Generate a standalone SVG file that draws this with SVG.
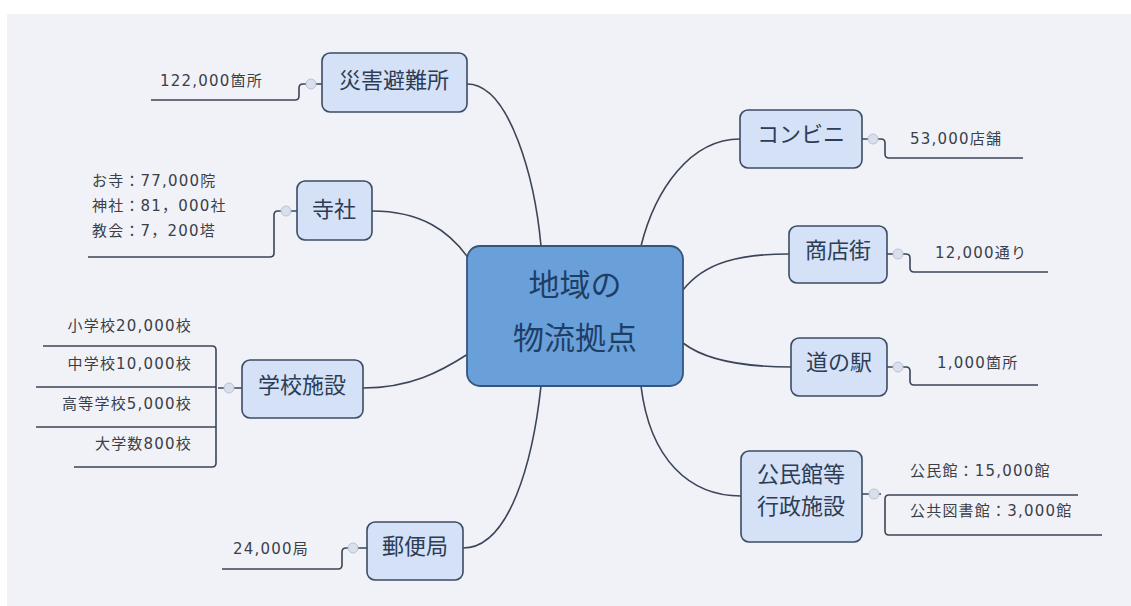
<svg xmlns="http://www.w3.org/2000/svg" width="1131" height="606" viewBox="0 0 1131 606">
<style>
.bg{fill:#f1f2f8}
.node{fill:#d5e1f7;stroke:#3b4c63;stroke-width:1.6}
.center{fill:#6aa0da;stroke:#34557c;stroke-width:1.8}
.t{font-family:"DejaVu Sans","Noto Sans CJK JP",sans-serif;fill:#2c3d55}
.nt{font-size:22px;text-anchor:middle}
.lt{font-size:15px;fill:#3a3f48;letter-spacing:1.2px}
.ct{font-size:31px;text-anchor:middle;fill:#1f3e66}
.line{fill:none;stroke:#3b4558;stroke-width:1.6}
.tog{fill:#d9e0ec;stroke:#b7c3d6;stroke-width:1}
</style>
<rect x="0" y="0" width="1131" height="606" fill="#ffffff"/>
<rect class="bg" x="7" y="14" width="1124" height="592"/>
<g id="connectors">
<path class="line" d="M467,84 C510,84 535,180 541,246"/>
<path class="line" d="M372,211 C420,211 450,230 471,262"/>
<path class="line" d="M363,388 C410,388 440,372 468,354"/>
<path class="line" d="M463,548 C510,548 533,460 541,386"/>
<path class="line" d="M740,139 C690,139 655,190 641,246"/>
<path class="line" d="M789,254 C740,254 705,262 683,290"/>
<path class="line" d="M791,367 C740,367 705,360 683,343"/>
<path class="line" d="M741,496 C690,496 650,460 641,386"/>
<path class="line" d="M322,84 H303 Q299,84 299,88 V96 Q299,100 295,100 H151"/>
<path class="line" d="M297,211 H278 Q274,211 274,215 V253 Q274,257 270,257 H88"/>
<path class="line" d="M242,388 H218 M216,350 Q216,346 212,346 H43 M216,350 V463 Q216,467 212,467 H74 M216,387 H36 M216,427 H36"/>
<path class="line" d="M367,548 H346 Q342,548 342,552 V565 Q342,569 338,569 H222"/>
<path class="line" d="M862,139 H881 Q885,139 885,143 V154 Q885,158 889,158 H1023"/>
<path class="line" d="M887,254 H906 Q910,254 910,258 V268 Q910,272 914,272 H1048"/>
<path class="line" d="M887,367 H906 Q910,367 910,371 V381 Q910,385 914,385 H1038"/>
<path class="line" d="M862,494 H881 M885,499 Q885,495 889,495 H1078 M885,499 V531 Q885,535 889,535 H1102"/>
<circle class="tog" cx="311" cy="84" r="5"/>
<circle class="tog" cx="286" cy="211" r="5"/>
<circle class="tog" cx="229" cy="388" r="5"/>
<circle class="tog" cx="353" cy="548" r="5"/>
<circle class="tog" cx="873" cy="139" r="5"/>
<circle class="tog" cx="898" cy="254" r="5"/>
<circle class="tog" cx="898" cy="367" r="5"/>
<circle class="tog" cx="874" cy="494" r="5"/>
</g>
<g id="center">
<rect class="center" x="467" y="246" width="216" height="140" rx="13"/>
<text class="t ct" x="575" y="296">地域の</text>
<text class="t ct" x="575" y="349">物流拠点</text>
</g>
<g id="saigai">
<rect class="node" x="322" y="53" width="145" height="59" rx="8"/>
<text class="t nt" x="394" y="88">災害避難所</text>
<text class="t lt" x="160" y="86">122,000箇所</text>
</g>
<g id="jisha">
<rect class="node" x="297" y="181" width="75" height="59" rx="8"/>
<text class="t nt" x="334" y="217">寺社</text>
<text class="t lt" x="92" y="186">お寺：77,000院</text>
<text class="t lt" x="92" y="211">神社：81，000社</text>
<text class="t lt" x="92" y="236">教会：7，200塔</text>
</g>
<g id="gakko">
<rect class="node" x="242" y="360" width="121" height="58" rx="8"/>
<text class="t nt" x="302" y="393">学校施設</text>
<text class="t lt" x="192" y="331" text-anchor="end">小学校20,000校</text>
<text class="t lt" x="192" y="369" text-anchor="end">中学校10,000校</text>
<text class="t lt" x="192" y="409" text-anchor="end">高等学校5,000校</text>
<text class="t lt" x="192" y="449" text-anchor="end">大学数800校</text>
</g>
<g id="yubin">
<rect class="node" x="367" y="522" width="96" height="58" rx="8"/>
<text class="t nt" x="415" y="554">郵便局</text>
<text class="t lt" x="233" y="554">24,000局</text>
</g>
<g id="konbini">
<rect class="node" x="740" y="110" width="122" height="58" rx="8"/>
<text class="t nt" x="801" y="142">コンビニ</text>
<text class="t lt" x="910" y="144">53,000店舗</text>
</g>
<g id="shotengai">
<rect class="node" x="789" y="226" width="98" height="57" rx="8"/>
<text class="t nt" x="838" y="258">商店街</text>
<text class="t lt" x="935" y="258">12,000通り</text>
</g>
<g id="michinoeki">
<rect class="node" x="791" y="338" width="96" height="58" rx="8"/>
<text class="t nt" x="839" y="370">道の駅</text>
<text class="t lt" x="937" y="368">1,000箇所</text>
</g>
<g id="kominkan">
<rect class="node" x="741" y="451" width="121" height="91" rx="8"/>
<text class="t nt" x="801" y="482">公民館等</text>
<text class="t nt" x="801" y="514">行政施設</text>
<text class="t lt" x="910" y="476">公民館：15,000館</text>
<text class="t lt" x="910" y="516">公共図書館：3,000館</text>
</g>
</svg>
